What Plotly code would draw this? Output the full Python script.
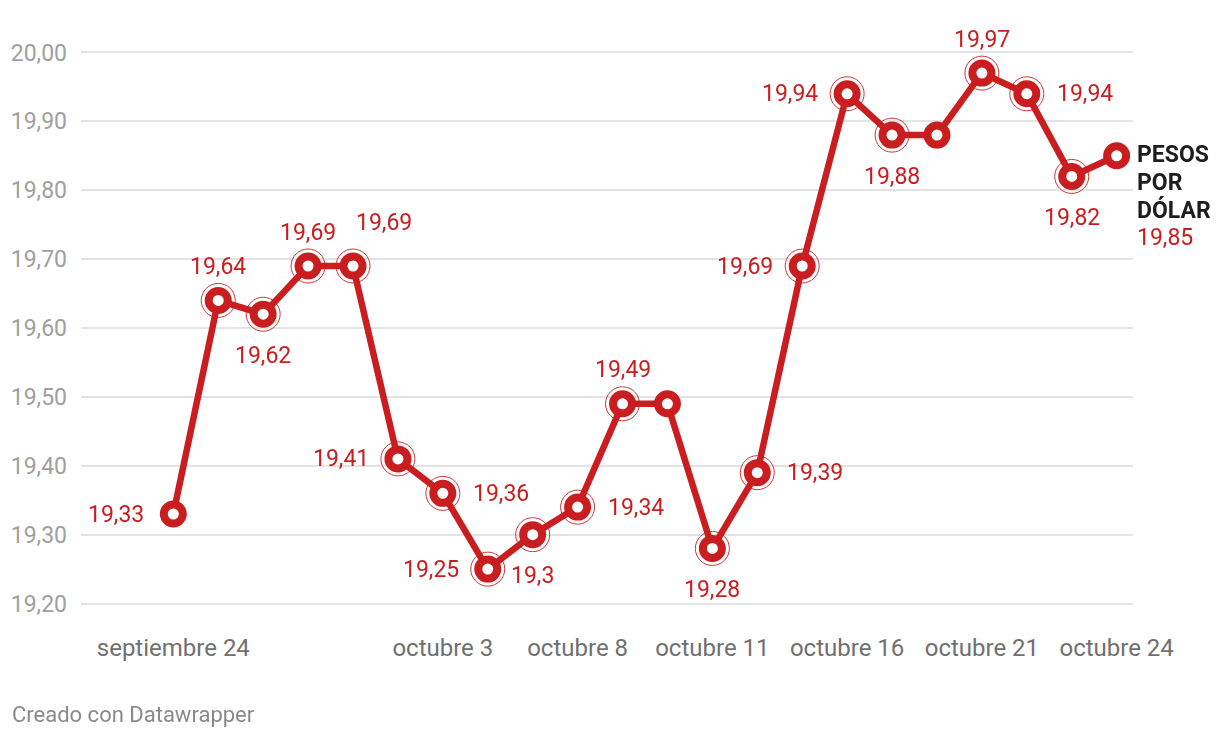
import plotly.graph_objects as go

# ---- data ----
fechas = ["septiembre 24", "septiembre 25", "septiembre 26", "septiembre 27", "septiembre 28",
          "octubre 1", "octubre 3", "octubre 4", "octubre 5", "octubre 8", "octubre 9",
          "octubre 10", "octubre 11", "octubre 12", "octubre 15", "octubre 16", "octubre 17",
          "octubre 18", "octubre 21", "octubre 22", "octubre 23", "octubre 24"]
pesos_por_dolar = [19.33, 19.64, 19.62, 19.69, 19.69, 19.41, 19.36, 19.25, 19.30, 19.34, 19.49,
                   19.49, 19.28, 19.39, 19.69, 19.94, 19.88, 19.88, 19.97, 19.94, 19.82, 19.85]
etiquetas_eje_x = ["septiembre 24", "octubre 3", "octubre 8", "octubre 11",
                   "octubre 16", "octubre 21", "octubre 24"]
ticks_eje_y = [19.2, 19.3, 19.4, 19.5, 19.6, 19.7, 19.8, 19.9, 20.0]
serie_nombre = "PESOS POR DÓLAR"

# label placement per point (style): l=left, r=right, t=top, b=bottom, tr=top-right, n=none, end=series label
colocacion = ["l", "t", "b", "t", "tr", "l", "r", "l", "b", "r", "t",
              "n", "b", "r", "l", "l", "b", "n", "t", "r", "b", "end"]

RED = "#c91d1f"
FONT = "Roboto"

def fmt(v):
    s = f"{v:.2f}".rstrip("0").rstrip(".")
    return s.replace(".", ",")

idx = list(range(len(fechas)))
ring_x = [fechas[i] for i in idx if colocacion[i] not in ("n", "end") and i != 0]
ring_y = [pesos_por_dolar[i] for i in idx if colocacion[i] not in ("n", "end") and i != 0]

fig = go.Figure()
fig.add_trace(go.Scatter(
    x=ring_x, y=ring_y, mode="markers",
    marker=dict(symbol="circle-open", size=34, color=RED, line=dict(width=1, color=RED)),
    opacity=0.9, hoverinfo="skip", cliponaxis=False, showlegend=False))
fig.add_trace(go.Scatter(
    x=fechas, y=pesos_por_dolar, mode="lines+markers",
    line=dict(color=RED, width=6.5),
    marker=dict(symbol="circle", size=19, color="white", line=dict(width=8, color=RED)),
    hoverinfo="skip", cliponaxis=False, showlegend=False))

shifts = {
    "l": dict(xanchor="right", yanchor="middle", xshift=-27, yshift=0),
    "r": dict(xanchor="left", yanchor="middle", xshift=28, yshift=0),
    "t": dict(xanchor="center", yanchor="middle", xshift=0, yshift=34),
    "b": dict(xanchor="center", yanchor="middle", xshift=0, yshift=-41),
    "tr": dict(xanchor="center", yanchor="middle", xshift=31, yshift=44),
}
for i in idx:
    pos = colocacion[i]
    if pos == "n":
        continue
    if pos == "end":
        lines = serie_nombre.split(" ")
        for k, w in enumerate(lines):
            fig.add_annotation(x=fechas[i], y=pesos_por_dolar[i], text=f"<b>{w}</b>",
                               showarrow=False, xanchor="left", yanchor="middle",
                               xshift=18, yshift=1 - 27.7 * k,
                               font=dict(family=FONT, size=23, color="#1d1d1d"))
        fig.add_annotation(x=fechas[i], y=pesos_por_dolar[i], text=fmt(pesos_por_dolar[i]),
                           showarrow=False, xanchor="left", yanchor="middle",
                           xshift=18, yshift=1 - 27.7 * len(lines),
                           font=dict(family=FONT, size=23, color=RED))
        continue
    s = shifts[pos]
    fig.add_annotation(x=fechas[i], y=pesos_por_dolar[i], text=fmt(pesos_por_dolar[i]),
                       showarrow=False, font=dict(family=FONT, size=23, color=RED), **s)

fig.add_annotation(xref="paper", yref="paper", x=0, y=0, xshift=-71, yshift=-107,
                   xanchor="left", yanchor="middle", showarrow=False,
                   text="Creado con Datawrapper",
                   font=dict(family=FONT, size=22, color="#8a8a8a"))

fig.update_layout(
    width=1212, height=730,
    margin=dict(l=73, r=87, t=41, b=131, autoexpand=False),
    plot_bgcolor="white", paper_bgcolor="white",
    separators=",.",
    font=dict(family=FONT),
    xaxis=dict(type="category", categoryorder="array", categoryarray=fechas,
               range=[-2.055, 21.364], showgrid=False, zeroline=False, automargin=False,
               showline=False, ticks="", tickmode="array", tickvals=etiquetas_eje_x,
               ticktext=etiquetas_eje_x, ticklabelstandoff=24, tickangle=0,
               tickfont=dict(family=FONT, size=24, color="#707070")),
    yaxis=dict(range=[19.195, 20.005], tickvals=ticks_eje_y, tickformat=".2f",
               showgrid=True, gridcolor="#e3e3e3", gridwidth=2, zeroline=False, showline=False,
               ticks="", ticklabelstandoff=13, automargin=False,
               tickfont=dict(family=FONT, size=23, color="#a0a0a0")),
)

fig.write_html("out.html", config={"displayModeBar": False})
